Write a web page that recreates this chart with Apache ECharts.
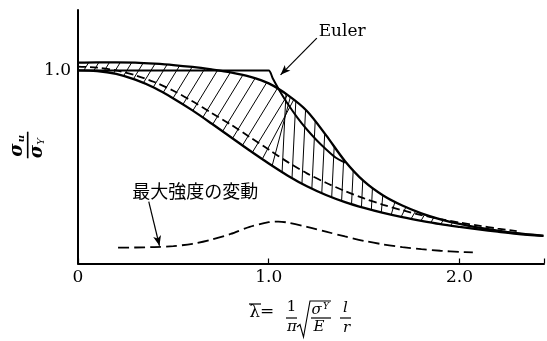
<!DOCTYPE html>
<html>
<head>
<meta charset="utf-8">
<script src="https://cdn.jsdelivr.net/npm/echarts@6/dist/echarts.min.js"></script>
<style>
  html, body { margin: 0; padding: 0; background: #fff; }
  #chart { width: 547px; height: 341px; }
</style>
</head>
<body>
<div id="chart"></div>
<script>
// Slenderness parameter (lambda-bar) and strength ratio sigma_u / sigma_Y
const upperX = [0, 0.1, 0.2, 0.3, 0.4, 0.5, 0.6, 0.7, 0.8, 0.9, 1.0, 1.1, 1.2, 1.3, 1.4, 1.5, 1.6, 1.7, 1.8, 1.9, 2.0, 2.1, 2.2, 2.3, 2.44];
const upperY = [1.04, 1.042, 1.042, 1.04, 1.035, 1.028, 1.018, 1.005, 0.99, 0.968, 0.933, 0.872, 0.79, 0.665, 0.53, 0.425, 0.352, 0.3, 0.26, 0.229, 0.205, 0.186, 0.17, 0.157, 0.143];

const lowerX = [0, 0.1, 0.2, 0.3, 0.4, 0.5, 0.6, 0.7, 0.8, 0.9, 1.0, 1.1, 1.2, 1.3, 1.4, 1.5, 1.6, 1.7, 1.8, 1.9, 2.0, 2.1, 2.2, 2.3, 2.44];
const lowerY = [1.0, 0.997, 0.982, 0.952, 0.91, 0.855, 0.793, 0.725, 0.655, 0.585, 0.518, 0.455, 0.4, 0.355, 0.318, 0.288, 0.262, 0.24, 0.221, 0.204, 0.19, 0.177, 0.165, 0.154, 0.143];

const meanX = [0, 0.1, 0.2, 0.3, 0.4, 0.5, 0.6, 0.7, 0.8, 0.9, 1.0, 1.1, 1.2, 1.3, 1.4, 1.5, 1.6, 1.7, 1.8, 1.9, 2.0, 2.1, 2.2, 2.3];
const meanY = [1.02, 1.015, 1.0, 0.975, 0.94, 0.895, 0.84, 0.78, 0.72, 0.655, 0.59, 0.525, 0.467, 0.418, 0.375, 0.337, 0.304, 0.276, 0.251, 0.23, 0.212, 0.196, 0.181, 0.168];

const eulerX = [0, 1.0, 1.02, 1.05, 1.1, 1.15, 1.2, 1.25, 1.3, 1.35, 1.4];
const eulerY = [1.0, 1.0, 0.961, 0.907, 0.826, 0.756, 0.694, 0.64, 0.592, 0.549, 0.522];

// Scatter of the maximum strength (lower dashed curve)
const spreadX = [0.21, 0.3, 0.4, 0.5, 0.6, 0.7, 0.8, 0.9, 1.0, 1.05, 1.1, 1.2, 1.3, 1.4, 1.5, 1.6, 1.7, 1.8, 1.9, 2.0, 2.07];
const spreadY = [0.082, 0.083, 0.085, 0.09, 0.102, 0.124, 0.153, 0.19, 0.214, 0.217, 0.212, 0.19, 0.165, 0.14, 0.117, 0.099, 0.085, 0.074, 0.066, 0.06, 0.058];

const xTicks = [0, 1, 2];
const xTickLabels = ['0', '1.0', '2.0'];
const yTicks = [1];
const yTickLabels = ['1.0'];

const SERIF = '"DejaVu Serif", "Liberation Serif", serif';

function pairs(xs, ys) { return xs.map((x, i) => [x, ys[i]]); }
function interp(xs, ys, x) {
  if (x <= xs[0]) return ys[0];
  for (let i = 1; i < xs.length; i++) {
    if (x <= xs[i]) {
      const t = (x - xs[i - 1]) / (xs[i] - xs[i - 1]);
      return ys[i - 1] + t * (ys[i] - ys[i - 1]);
    }
  }
  return ys[ys.length - 1];
}
// horizontal lean of the hatch strokes along the band
function lean(b) {
  if (b < 0.95) return 0.62;
  if (b < 1.06) return 0.62 - (b - 0.95) / 0.11 * 0.57;
  if (b < 1.58) return 0.05;
  if (b < 1.72) return 0.05 + (b - 1.58) / 0.14 * 0.55;
  return 0.6;
}

const chart = echarts.init(document.getElementById('chart'), null, { renderer: 'canvas' });

const option = {
  animation: false,
  backgroundColor: '#fff',
  grid: { left: 78, right: 0, top: 10, bottom: 77.5, containLabel: false },
  xAxis: {
    type: 'value', min: 0, max: 2.443, interval: 1,
    axisLine: { show: true, onZero: false, lineStyle: { color: '#000', width: 2 } },
    axisTick: { show: true, inside: true, length: 5, lineStyle: { color: '#000', width: 1.2 } },
    splitLine: { show: false },
    axisLabel: {
      margin: 6, color: '#000', fontFamily: SERIF, fontSize: 17,
      formatter: v => { const i = xTicks.indexOf(Math.round(v * 100) / 100); return i >= 0 ? xTickLabels[i] : ''; }
    }
  },
  yAxis: {
    type: 'value', min: 0, max: 1.313, interval: 1,
    axisLine: { show: true, onZero: false, lineStyle: { color: '#000', width: 2 } },
    axisTick: { show: false },
    splitLine: { show: false },
    axisLabel: {
      margin: 7, color: '#000', fontFamily: SERIF, fontSize: 17,
      formatter: v => { const i = yTicks.indexOf(Math.round(v * 100) / 100); return i >= 0 ? yTickLabels[i] : ''; }
    }
  },
  series: [
    {
      // hatching of the band between the bounding curves
      type: 'custom', silent: true, z: 1,
      data: [[0, 0]],
      renderItem: function (params, api) {
        const children = [];
        for (let b = 0.03; b <= 2.0; b += 0.052) {
          const y0 = interp(lowerX, lowerY, b);
          const k = lean(b);
          let t = b;
          for (let i = 0; i < 8; i++) t = b + k * (interp(upperX, upperY, t) - y0);
          const p0 = api.coord([b, y0]);
          const p1 = api.coord([t, interp(upperX, upperY, t)]);
          children.push({ type: 'line', shape: { x1: p0[0], y1: p0[1], x2: p1[0], y2: p1[1] },
                          style: { stroke: '#000', lineWidth: 1 } });
        }
        return { type: 'group', children };
      }
    },
    {
      type: 'line', data: pairs(upperX, upperY), smooth: 0.3, symbol: 'none', z: 3,
      lineStyle: { color: '#000', width: 2.3 }
    },
    {
      type: 'line', data: pairs(lowerX, lowerY), smooth: 0.3, symbol: 'none', z: 3,
      lineStyle: { color: '#000', width: 2.3 }
    },
    {
      type: 'line', data: pairs(meanX, meanY), smooth: 0.3, symbol: 'none', z: 3,
      lineStyle: { color: '#000', width: 1.8, type: [8, 4] }
    },
    {
      type: 'line', data: pairs(eulerX, eulerY), smooth: 0.2, symbol: 'none', z: 4,
      lineStyle: { color: '#000', width: 2 },
      markLine: {
        silent: true, symbol: ['none', 'arrow'], symbolSize: [6, 10],
        lineStyle: { color: '#000', width: 1.2, type: 'solid' }, label: { show: false },
        data: [[{ coord: [1.252, 1.167] }, { coord: [1.062, 0.977] }]]
      }
    },
    {
      type: 'line', data: pairs(spreadX, spreadY), smooth: 0.3, symbol: 'none', z: 3,
      lineStyle: { color: '#000', width: 1.8, type: [11, 5] },
      markLine: {
        silent: true, symbol: ['none', 'arrow'], symbolSize: [6, 10],
        lineStyle: { color: '#000', width: 1.2, type: 'solid' }, label: { show: false },
        data: [[{ coord: [0.371, 0.32] }, { coord: [0.427, 0.092] }]]
      }
    }
  ]
};
chart.setOption(option);

// Annotation texts and axis titles
const eulerPos = chart.convertToPixel({ gridIndex: 0 }, [1.385, 1.2]);
const spreadPos = chart.convertToPixel({ gridIndex: 0 }, [0.615, 0.373]);
const it = (size) => 'italic ' + size + 'px ' + SERIF;
const rm = (size) => size + 'px ' + SERIF;
function txt(x, y, s, font, extra) {
  return Object.assign({ type: 'text', x, y, style: { text: s, font, fill: '#000', align: 'center', verticalAlign: 'middle' } }, extra || {});
}
function seg(x1, y1, x2, y2, w) {
  return { type: 'line', shape: { x1, y1, x2, y2 }, style: { stroke: '#000', lineWidth: w || 1.3 } };
}

chart.setOption({
  graphic: [
    txt(eulerPos[0], eulerPos[1], 'Euler', rm(17)),
    txt(spreadPos[0], spreadPos[1], '最大強度の変動', '18px "Noto Sans CJK JP", sans-serif'),
    // vertical axis title: sigma_u over sigma_Y, rotated
    {
      type: 'group', x: 27.7, y: 145, rotation: Math.PI / 2,
      children: [
        seg(-13.3, 0, 13.3, 0, 1.6),
        txt(-5, -10.5, 'σ', 'bold italic 18px ' + SERIF),
        txt(6.5, -6, 'u', 'bold italic 10px ' + SERIF),
        txt(-6.5, 9.5, 'σ', 'bold italic 18px ' + SERIF),
        txt(3.5, 13.5, 'Y', 'italic 10px ' + SERIF)
      ]
    },
    // horizontal axis title
    txt(254.7, 312.5, 'λ', rm(17)),
    seg(249, 304, 261, 304, 1.2),
    txt(267, 312, '=', rm(17)),
    txt(291.5, 307.5, '1', rm(15)),
    seg(286, 318, 297, 318, 1.2),
    txt(292, 327.5, 'π', it(15)),
    { type: 'polyline', shape: { points: [[297, 327], [300, 324.5], [303.5, 337], [310, 301], [331, 301]] },
      style: { stroke: '#000', lineWidth: 1.1, fill: null } },
    txt(316.7, 310, 'σ', it(15)),
    txt(326, 306.5, 'Y', it(9)),
    seg(311, 318, 331, 318, 1.2),
    txt(319, 327, 'E', it(15)),
    txt(345.5, 308, 'l', it(15)),
    seg(340, 318, 351, 318, 1.2),
    txt(346.5, 328, 'r', it(15))
  ]
});
</script>
</body>
</html>
